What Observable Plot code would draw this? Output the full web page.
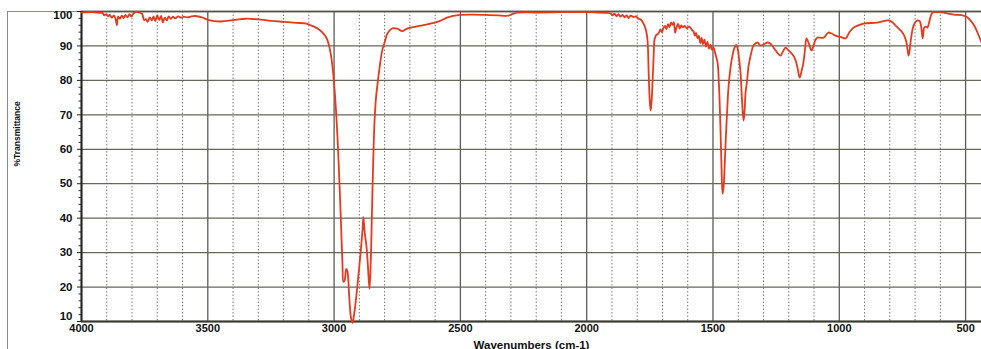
<!DOCTYPE html>
<html>
<head>
<meta charset="utf-8">
<script src="https://cdn.jsdelivr.net/npm/d3@7"></script>
<script src="https://cdn.jsdelivr.net/npm/@observablehq/plot@0.6"></script>
<style>
  html, body { margin: 0; padding: 0; background: #fff; }
  #wrap { position: relative; width: 981px; height: 349px; overflow: hidden; background: #fff; }
  #outer { position: absolute; left: 7px; top: 11px; width: 980px; height: 340px;
           border-left: 1.5px solid #8c8c86; border-top: 1.5px solid #8c8c86; }
  #chart { position: absolute; left: 0; top: 0; }
</style>
</head>
<body>
<div id="wrap"><div id="outer"></div><div id="chart"></div></div>
<script>
const wavenumber = [
  4000, 3960, 3925, 3917, 3910, 3902, 3895, 3888, 3880, 3872, 3865, 3860, 3855, 3848, 3840, 3833, 3826, 3818, 3810, 3802,
  3795, 3785, 3770, 3760, 3752, 3745, 3738, 3730, 3722, 3715, 3708, 3700, 3692, 3685, 3678, 3670, 3662, 3655, 3646, 3638,
  3628, 3618, 3605, 3595, 3580, 3565, 3550, 3520, 3500, 3450, 3400, 3350, 3300, 3250, 3200, 3150, 3110, 3080, 3060, 3045,
  3030, 3018, 3008, 3000, 2993, 2987, 2982, 2977, 2972, 2967, 2963, 2958, 2952, 2947, 2940, 2933, 2927, 2921, 2914, 2907,
  2895, 2887, 2884, 2879, 2872, 2866, 2860, 2855, 2850, 2845, 2840, 2834, 2828, 2820, 2810, 2800, 2789, 2770, 2750, 2730,
  2715, 2697, 2650, 2618, 2580, 2551, 2500, 2450, 2400, 2350, 2310, 2290, 2270, 2200, 2100, 2000, 1960, 1930, 1906, 1898,
  1890, 1882, 1874, 1866, 1858, 1850, 1842, 1834, 1826, 1815, 1805, 1795, 1785, 1775, 1765, 1759, 1755, 1751, 1747, 1743,
  1739, 1735, 1731, 1724, 1716, 1708, 1702, 1696, 1690, 1684, 1678, 1672, 1666, 1660, 1655, 1650, 1645, 1638, 1632, 1626,
  1620, 1612, 1604, 1596, 1589, 1583, 1577, 1572, 1567, 1561, 1556, 1550, 1545, 1540, 1534, 1528, 1522, 1516, 1510, 1504,
  1498, 1490, 1482, 1476, 1470, 1466, 1462, 1458, 1454, 1450, 1444, 1439, 1431, 1423, 1415, 1408, 1403, 1397, 1391, 1385,
  1379, 1375, 1371, 1365, 1359, 1350, 1340, 1324, 1312, 1298, 1284, 1270, 1260, 1245, 1233, 1222, 1213, 1201, 1185, 1173,
  1165, 1157, 1150, 1142, 1135, 1130, 1122, 1110, 1102, 1094, 1086, 1062, 1050, 1043, 1030, 1015, 995, 975, 960, 944,
  920, 904, 849, 805, 790, 777, 760, 750, 740, 734, 729, 726, 722, 718, 712, 706, 698, 690, 682, 678,
  674, 670, 667, 664, 655, 651, 642, 631, 610, 587, 570, 548, 508, 495, 481, 465, 453, 437
];
const transmittance = [
  99.7, 99.8, 99.6, 99.6, 98.9, 99.2, 98.6, 99.0, 98.2, 98.9, 97.8, 96.0, 98.5, 97.9, 98.8, 98.1, 99.0, 98.3, 99.2, 98.5,
  99.4, 99.8, 99.7, 99.3, 97.5, 97.8, 97.0, 98.3, 97.4, 98.6, 97.2, 98.9, 97.5, 98.7, 96.9, 98.2, 97.4, 98.6, 97.9, 98.5,
  98.0, 98.6, 98.2, 98.5, 98.3, 98.6, 98.7, 98.2, 97.6, 97.1, 97.5, 97.9, 97.7, 97.3, 97.0, 96.7, 96.5, 95.6, 94.8, 93.8,
  92.3, 89.5, 85.0, 79.0, 72.0, 64.0, 56.0, 47.0, 37.0, 27.0, 21.5, 22.0, 25.3, 24.5, 17.0, 11.0, 9.6, 12.0, 16.0, 21.0,
  30.0, 37.0, 40.3, 36.0, 32.0, 26.0, 19.5, 27.0, 42.0, 57.0, 68.0, 75.0, 79.0, 83.7, 88.5, 91.0, 93.6, 95.1, 95.0, 94.3,
  94.9, 95.3, 96.0, 96.5, 97.3, 98.3, 99.0, 99.1, 99.0, 98.9, 98.8, 99.4, 99.7, 99.7, 99.8, 99.8, 99.7, 99.6, 99.5, 98.9,
  99.4, 98.6, 99.2, 98.5, 99.0, 98.3, 98.9, 98.1, 98.8, 98.4, 98.6, 97.9, 97.6, 96.5, 94.5, 91.5, 83.0, 75.0, 71.2, 74.0,
  80.0, 87.0, 92.0, 93.2, 93.6, 94.8, 94.0, 95.3, 95.8, 94.9, 96.3, 95.5, 96.8, 96.1, 96.9, 93.8, 95.2, 96.4, 95.0, 96.0,
  95.4, 95.8, 95.1, 95.6, 95.3, 94.6, 94.2, 93.0, 93.8, 92.2, 92.9, 90.8, 92.3, 90.5, 91.8, 89.8, 91.2, 89.2, 90.4, 88.9,
  89.5, 87.5, 85.2, 78.0, 65.0, 54.0, 47.1, 49.0, 55.0, 62.0, 71.0, 77.6, 83.5, 87.2, 89.5, 90.3, 89.5, 86.5, 82.3, 74.0,
  68.3, 71.0, 76.5, 80.0, 84.3, 87.5, 90.1, 91.0, 90.1, 90.5, 91.0, 90.5, 89.5, 88.0, 87.2, 88.5, 89.5, 88.7, 87.5, 85.8,
  83.5, 80.8, 82.5, 85.2, 89.5, 92.2, 91.0, 88.7, 90.1, 91.8, 92.4, 92.4, 93.4, 93.9, 93.6, 93.0, 92.6, 92.2, 94.0, 95.3,
  96.1, 96.5, 96.8, 97.4, 96.9, 95.9, 94.7, 93.9, 92.5, 91.0, 88.5, 87.2, 88.5, 91.0, 94.0, 95.9, 97.0, 97.4, 97.2, 96.5,
  94.5, 92.2, 94.0, 95.3, 95.6, 95.3, 97.5, 99.7, 99.8, 99.7, 99.4, 99.1, 98.8, 98.4, 97.4, 95.8, 93.9, 91.0
];
const xTicks = [4000, 3500, 3000, 2500, 2000, 1500, 1000, 500];
const xMinor = [3900, 3800, 3700, 3600, 3400, 3300, 3200, 3100, 2900, 2800, 2700, 2600, 2400, 2300, 2200, 2100,
                1900, 1800, 1700, 1600, 1400, 1300, 1200, 1100, 900, 800, 700, 600];
const yTicks = [10, 20, 30, 40, 50, 60, 70, 80, 90, 100];
const yMinor = [12, 14, 16, 18, 22, 24, 26, 28, 32, 34, 36, 38, 42, 44, 46, 48, 52, 54, 56, 58, 62, 64, 66, 68,
                72, 74, 76, 78, 82, 84, 86, 88, 92, 94, 96, 98];
const xLabel = "Wavenumbers (cm-1)";
const yLabel = "%Transmittance";

const data = wavenumber.map((w, i) => ({w, t: transmittance[i]}));
const yInner = yTicks.filter(d => d !== 10 && d !== 100);
const yLow = yTicks.filter(d => d === 10);
const yHigh = yTicks.filter(d => d === 100);
const yLabelStyle = {anchor: "left", tickSize: 0, tickPadding: 9, tickFormat: d => String(d),
  fontWeight: "bold", fontSize: 11.5, fill: "#111", label: null};

const chart = Plot.plot({
  width: 981,
  height: 349,
  marginLeft: 81,
  marginRight: 0,
  marginTop: 11,
  marginBottom: 28,
  style: {fontFamily: "Liberation Sans, Arial, sans-serif", background: "transparent", overflow: "visible"},
  x: {domain: [4000, 437], axis: null},
  y: {domain: [10, 100], axis: null},
  marks: [
    Plot.gridX(xMinor, {stroke: "#7a7a70", strokeOpacity: 1, strokeWidth: 1, strokeDasharray: "1.5,2"}),
    Plot.gridX(xTicks, {stroke: "#5c5c50", strokeOpacity: 1, strokeWidth: 1.3}),
    Plot.gridY(yTicks, {stroke: "#66665a", strokeOpacity: 1, strokeWidth: 1.3}),
    Plot.ruleY([100], {stroke: "#55554c", strokeWidth: 1.5}),
    Plot.ruleY([10], {stroke: "#3a3a34", strokeWidth: 2.2}),
    Plot.ruleX([4000], {stroke: "#222", strokeWidth: 2}),
    Plot.line(data, {x: "w", y: "t", stroke: "#e63a1f", strokeWidth: 1.8, curve: "catmull-rom"}),
    Plot.axisX(xTicks, {anchor: "bottom", tickSize: 0, tickPadding: 3, tickFormat: d => String(d),
      fontWeight: "bold", fontSize: 11, fill: "#111", label: null}),
    Plot.axisY(yTicks, {anchor: "left", tickSize: 4, tickFormat: () => "", stroke: "#222", label: null}),
    Plot.axisY(yMinor, {anchor: "left", tickSize: 2.5, tickFormat: () => "", stroke: "#333", label: null}),
    Plot.axisY(yInner, yLabelStyle),
    Plot.axisY(yLow, {...yLabelStyle, dy: -5}),
    Plot.axisY(yHigh, {...yLabelStyle, dy: 4}),
    Plot.text([xLabel], {frameAnchor: "bottom", dy: 27, lineAnchor: "bottom", fontWeight: "bold", fontSize: 11.5, fill: "#111"}),
    Plot.text([yLabel], {frameAnchor: "left", rotate: -90, dx: -64, fontWeight: "bold", fontSize: 8.5, fill: "#111"})
  ]
});
document.getElementById("chart").appendChild(chart);
</script>
</body>
</html>
